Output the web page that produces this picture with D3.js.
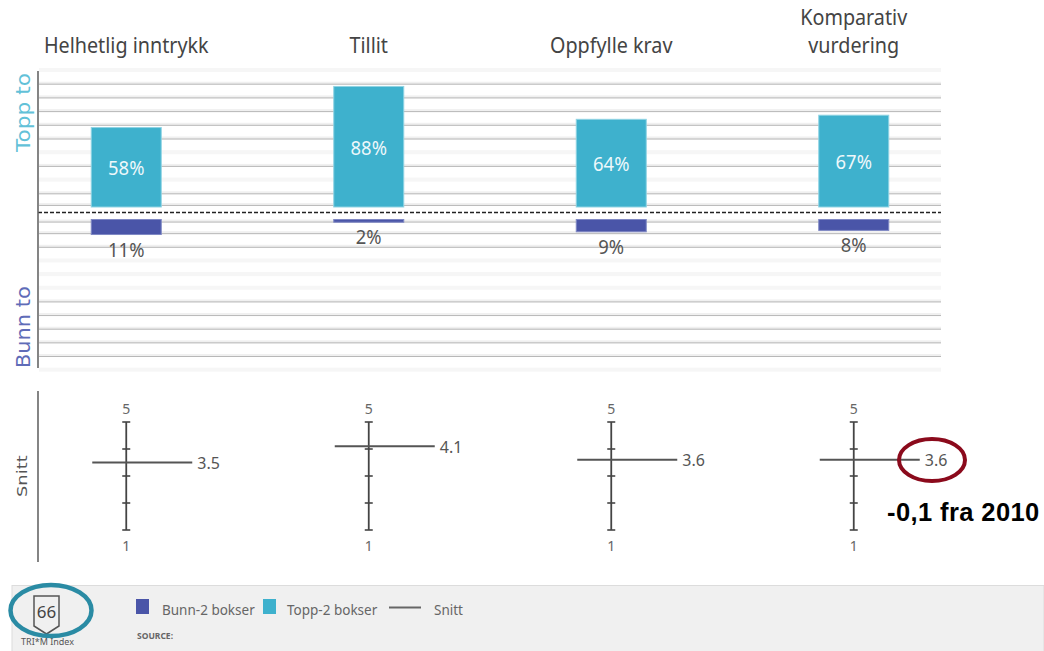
<!DOCTYPE html>
<html>
<head>
<meta charset="utf-8">
<script src="https://cdnjs.cloudflare.com/ajax/libs/d3/7.8.5/d3.min.js"></script>
<style>
html,body{margin:0;padding:0;background:#fff;}
svg{display:block;}
text{font-family:"Noto Sans",sans-serif;}
</style>
</head>
<body>
<svg id="chart" width="1044" height="651"></svg>
<script>
// Survey dimensions, each shown as a top-2 / bottom-2 box pair and a mean gauge
const categories = ["Helhetlig inntrykk", "Tillit", "Oppfylle krav", "Komparativ vurdering"];
const topTwo = [58, 88, 64, 67];
const bottomTwo = [11, 2, 9, 8];
const means = [3.5, 4.1, 3.6, 3.6];
const meanTicks = [1, 2, 3, 4, 5];
const topGrid = [1.5, 10, 30, 50, 60, 70, 80, 90];
const topGridFaint = [20, 40, 100];
const bottomGrid = [1.5, 10, 20, 60, 70, 80, 90, 100];
const bottomGridFaint = [30, 40, 50, 110];

const TEAL = "#3eb1cd", INDIGO = "#4a55a8", INK = "#555";
const svg = d3.select("#chart");

const x = d3.scaleBand().domain(categories).range([5, 975]).paddingInner(0).paddingOuter(0);
const cx = d => x(d) + x.bandwidth() / 2;
const barW = 70;
const yTop = d3.scaleLinear().domain([0, 100]).range([207, 70]);
const yBot = d3.scaleLinear().domain([0, 100]).range([219.5, 356]);
const yMean = d3.scaleLinear().domain([1, 5]).range([530, 422]);

// Squeeze a text selection horizontally so taller glyphs keep their run length
function squeeze(sel, k) {
  sel.each(function () {
    const len = this.getComputedTextLength();
    d3.select(this).attr("textLength", len * k).attr("lengthAdjust", "spacingAndGlyphs");
  });
  return sel;
}

// Horizontal rules behind the bars
function rules(values, scale, faintOnly) {
  const g = svg.append("g");
  g.selectAll("rect").data(values).join("rect")
    .attr("x", 39).attr("width", 902)
    .attr("y", d => scale(d) - 2).attr("height", faintOnly ? 4 : 3)
    .attr("fill", faintOnly ? "#f6f6f6" : "#f0f0f0");
  if (!faintOnly) {
    g.selectAll("line").data(values).join("line")
      .attr("x1", 39).attr("x2", 941)
      .attr("y1", d => scale(d) + 0.5).attr("y2", d => scale(d) + 0.5)
      .attr("stroke", "#b8b8b8").attr("stroke-width", 1);
  }
}
rules(topGridFaint, yTop, true);
rules(bottomGridFaint, yBot, true);
rules(topGrid, yTop, false);
rules(bottomGrid, yBot, false);

// Column headings; the long one wraps onto two lines
const headings = svg.append("g").attr("fill", "#444").attr("text-anchor", "middle").style("font-size", "21px");
categories.forEach(c => {
  const words = c === "Komparativ vurdering" ? c.split(" ") : [c];
  words.forEach((w, i) => {
    squeeze(headings.append("text")
      .attr("x", cx(c))
      .attr("y", 53 - (words.length - 1 - i) * 28)
      .text(w), 0.94);
  });
});

// Top-2 boxes
svg.append("g").selectAll("rect").data(topTwo).join("rect")
  .attr("x", (d, i) => cx(categories[i]) - barW / 2)
  .attr("width", barW)
  .attr("y", d => yTop(d))
  .attr("height", d => yTop(0) - yTop(d))
  .attr("fill", TEAL).attr("stroke", "#8fd3e3").attr("stroke-width", 1);
squeeze(svg.append("g").attr("fill", "#eef8fb").attr("text-anchor", "middle").style("font-size", "20px")
  .selectAll("text").data(topTwo).join("text")
  .attr("x", (d, i) => cx(categories[i]))
  .attr("y", d => (yTop(d) + yTop(0)) / 2 + 8)
  .text(d => d + "%"), 0.92);

// Bottom-2 boxes
svg.append("g").selectAll("rect").data(bottomTwo).join("rect")
  .attr("x", (d, i) => cx(categories[i]) - barW / 2)
  .attr("width", barW)
  .attr("y", yBot(0))
  .attr("height", d => yBot(d) - yBot(0))
  .attr("fill", INDIGO).attr("stroke", "#7f88c4").attr("stroke-width", 1);
squeeze(svg.append("g").attr("fill", INK).attr("text-anchor", "middle").style("font-size", "20px")
  .selectAll("text").data(bottomTwo).join("text")
  .attr("x", (d, i) => cx(categories[i]))
  .attr("y", d => yBot(d) + 22)
  .text(d => d + "%"), 0.92);

// Zero divider between the two halves
svg.append("line").attr("x1", 38).attr("x2", 941).attr("y1", 212.5).attr("y2", 212.5)
  .attr("stroke", "#222").attr("stroke-width", 1.6).attr("stroke-dasharray", "4 2");

// Left-hand rails
svg.append("line").attr("x1", 38).attr("x2", 38).attr("y1", 71).attr("y2", 368).attr("stroke", "#666").attr("stroke-width", 1.6);
svg.append("line").attr("x1", 38).attr("x2", 38).attr("y1", 391).attr("y2", 562).attr("stroke", "#666").attr("stroke-width", 1.6);

// Rotated side captions, stretched along their run
function sideLabel(txt, xPos, yPos, size, color, stretch) {
  svg.append("text")
    .attr("transform", `translate(${xPos},${yPos}) rotate(-90) scale(${stretch},1)`)
    .attr("fill", color)
    .style("font-family", "'DejaVu Sans',sans-serif")
    .style("font-size", size + "px")
    .text(txt);
}
sideLabel("Topp to", 30, 152, 19, "#62c1d8", 1.14);
sideLabel("Bunn to", 30, 368, 19, "#5f6cb8", 1.1);
sideLabel("Snitt", 27, 497, 14, "#555", 1.28);

// Mean gauges
categories.forEach((c, i) => {
  const g = svg.append("g").attr("transform", `translate(${cx(c)},0)`);
  g.append("line").attr("y1", yMean(5)).attr("y2", yMean(1)).attr("stroke", "#444").attr("stroke-width", 1.8);
  g.selectAll("line.tick").data(meanTicks).join("line").attr("class", "tick")
    .attr("x1", -4).attr("x2", 4)
    .attr("y1", d => yMean(d)).attr("y2", d => yMean(d))
    .attr("stroke", "#444").attr("stroke-width", 1.6);
  g.append("line").attr("x1", -34).attr("x2", 66)
    .attr("y1", yMean(means[i])).attr("y2", yMean(means[i]))
    .attr("stroke", "#555").attr("stroke-width", 2);
  g.append("text").attr("x", 71).attr("y", yMean(means[i]) + 6.5)
    .attr("fill", INK).style("font-size", "16px").text(d3.format(".1f")(means[i]));
  g.selectAll("text.end").data([5, 1]).join("text").attr("class", "end")
    .attr("text-anchor", "middle")
    .attr("y", d => d === 5 ? yMean(d) - 8 : yMean(d) + 21)
    .attr("fill", "#666").style("font-size", "14px").text(d => d);
});

// Callout on the last mean
svg.append("ellipse").attr("cx", 932).attr("cy", 460).attr("rx", 33).attr("ry", 21)
  .attr("fill", "none").attr("stroke", "#8b0a1c").attr("stroke-width", 4);
svg.append("text").attr("x", 887).attr("y", 520.5)
  .attr("fill", "#000")
  .style("font-family", "'Liberation Sans',sans-serif")
  .style("font-weight", "bold").style("font-size", "25.5px")
  .style("letter-spacing", "0.4px")
  .text("-0,1 fra 2010");

// Footer band with index badge and legend
svg.append("rect").attr("x", 12).attr("y", 585.5).attr("width", 1032).attr("height", 66)
  .attr("fill", "#f0f0f0").attr("stroke", "#dcdcdc");
svg.append("path")
  .attr("d", "M34,596H59V626L46.5,634L34,626Z")
  .attr("fill", "none").attr("stroke", "#555").attr("stroke-width", 1.5);
svg.append("text").attr("x", 46.5).attr("y", 618).attr("text-anchor", "middle")
  .attr("fill", "#444").style("font-size", "17px").text("66");
svg.append("text").attr("x", 47.5).attr("y", 645).attr("text-anchor", "middle")
  .attr("fill", "#555").style("font-size", "9px").text("TRI*M Index");
svg.append("ellipse").attr("cx", 51).attr("cy", 610.5).attr("rx", 40.5).attr("ry", 25.5)
  .attr("fill", "none").attr("stroke", "#2a8ba4").attr("stroke-width", 4.5);

const legendItems = ["Bunn-2 bokser", "Topp-2 bokser", "Snitt"];
const legendColors = [INDIGO, TEAL, "#666"];
const legendSwatchX = [136, 263, 389];
const legendTextX = [162, 287, 434];
const legend = svg.append("g");
legendItems.forEach((t, i) => {
  if (t === "Snitt") {
    legend.append("line").attr("x1", legendSwatchX[i]).attr("x2", legendSwatchX[i] + 32)
      .attr("y1", 607.5).attr("y2", 607.5).attr("stroke", legendColors[i]).attr("stroke-width", 2);
  } else {
    legend.append("rect").attr("x", legendSwatchX[i]).attr("y", 599).attr("width", 13).attr("height", 15)
      .attr("fill", legendColors[i]);
  }
  legend.append("text").attr("x", legendTextX[i]).attr("y", 615)
    .attr("fill", "#666").style("font-size", "13.5px").text(t);
});
svg.append("text").attr("x", 137).attr("y", 639)
  .attr("fill", "#666").style("font-size", "8.5px").style("font-weight", "bold").text("SOURCE:");
</script>
</body>
</html>
